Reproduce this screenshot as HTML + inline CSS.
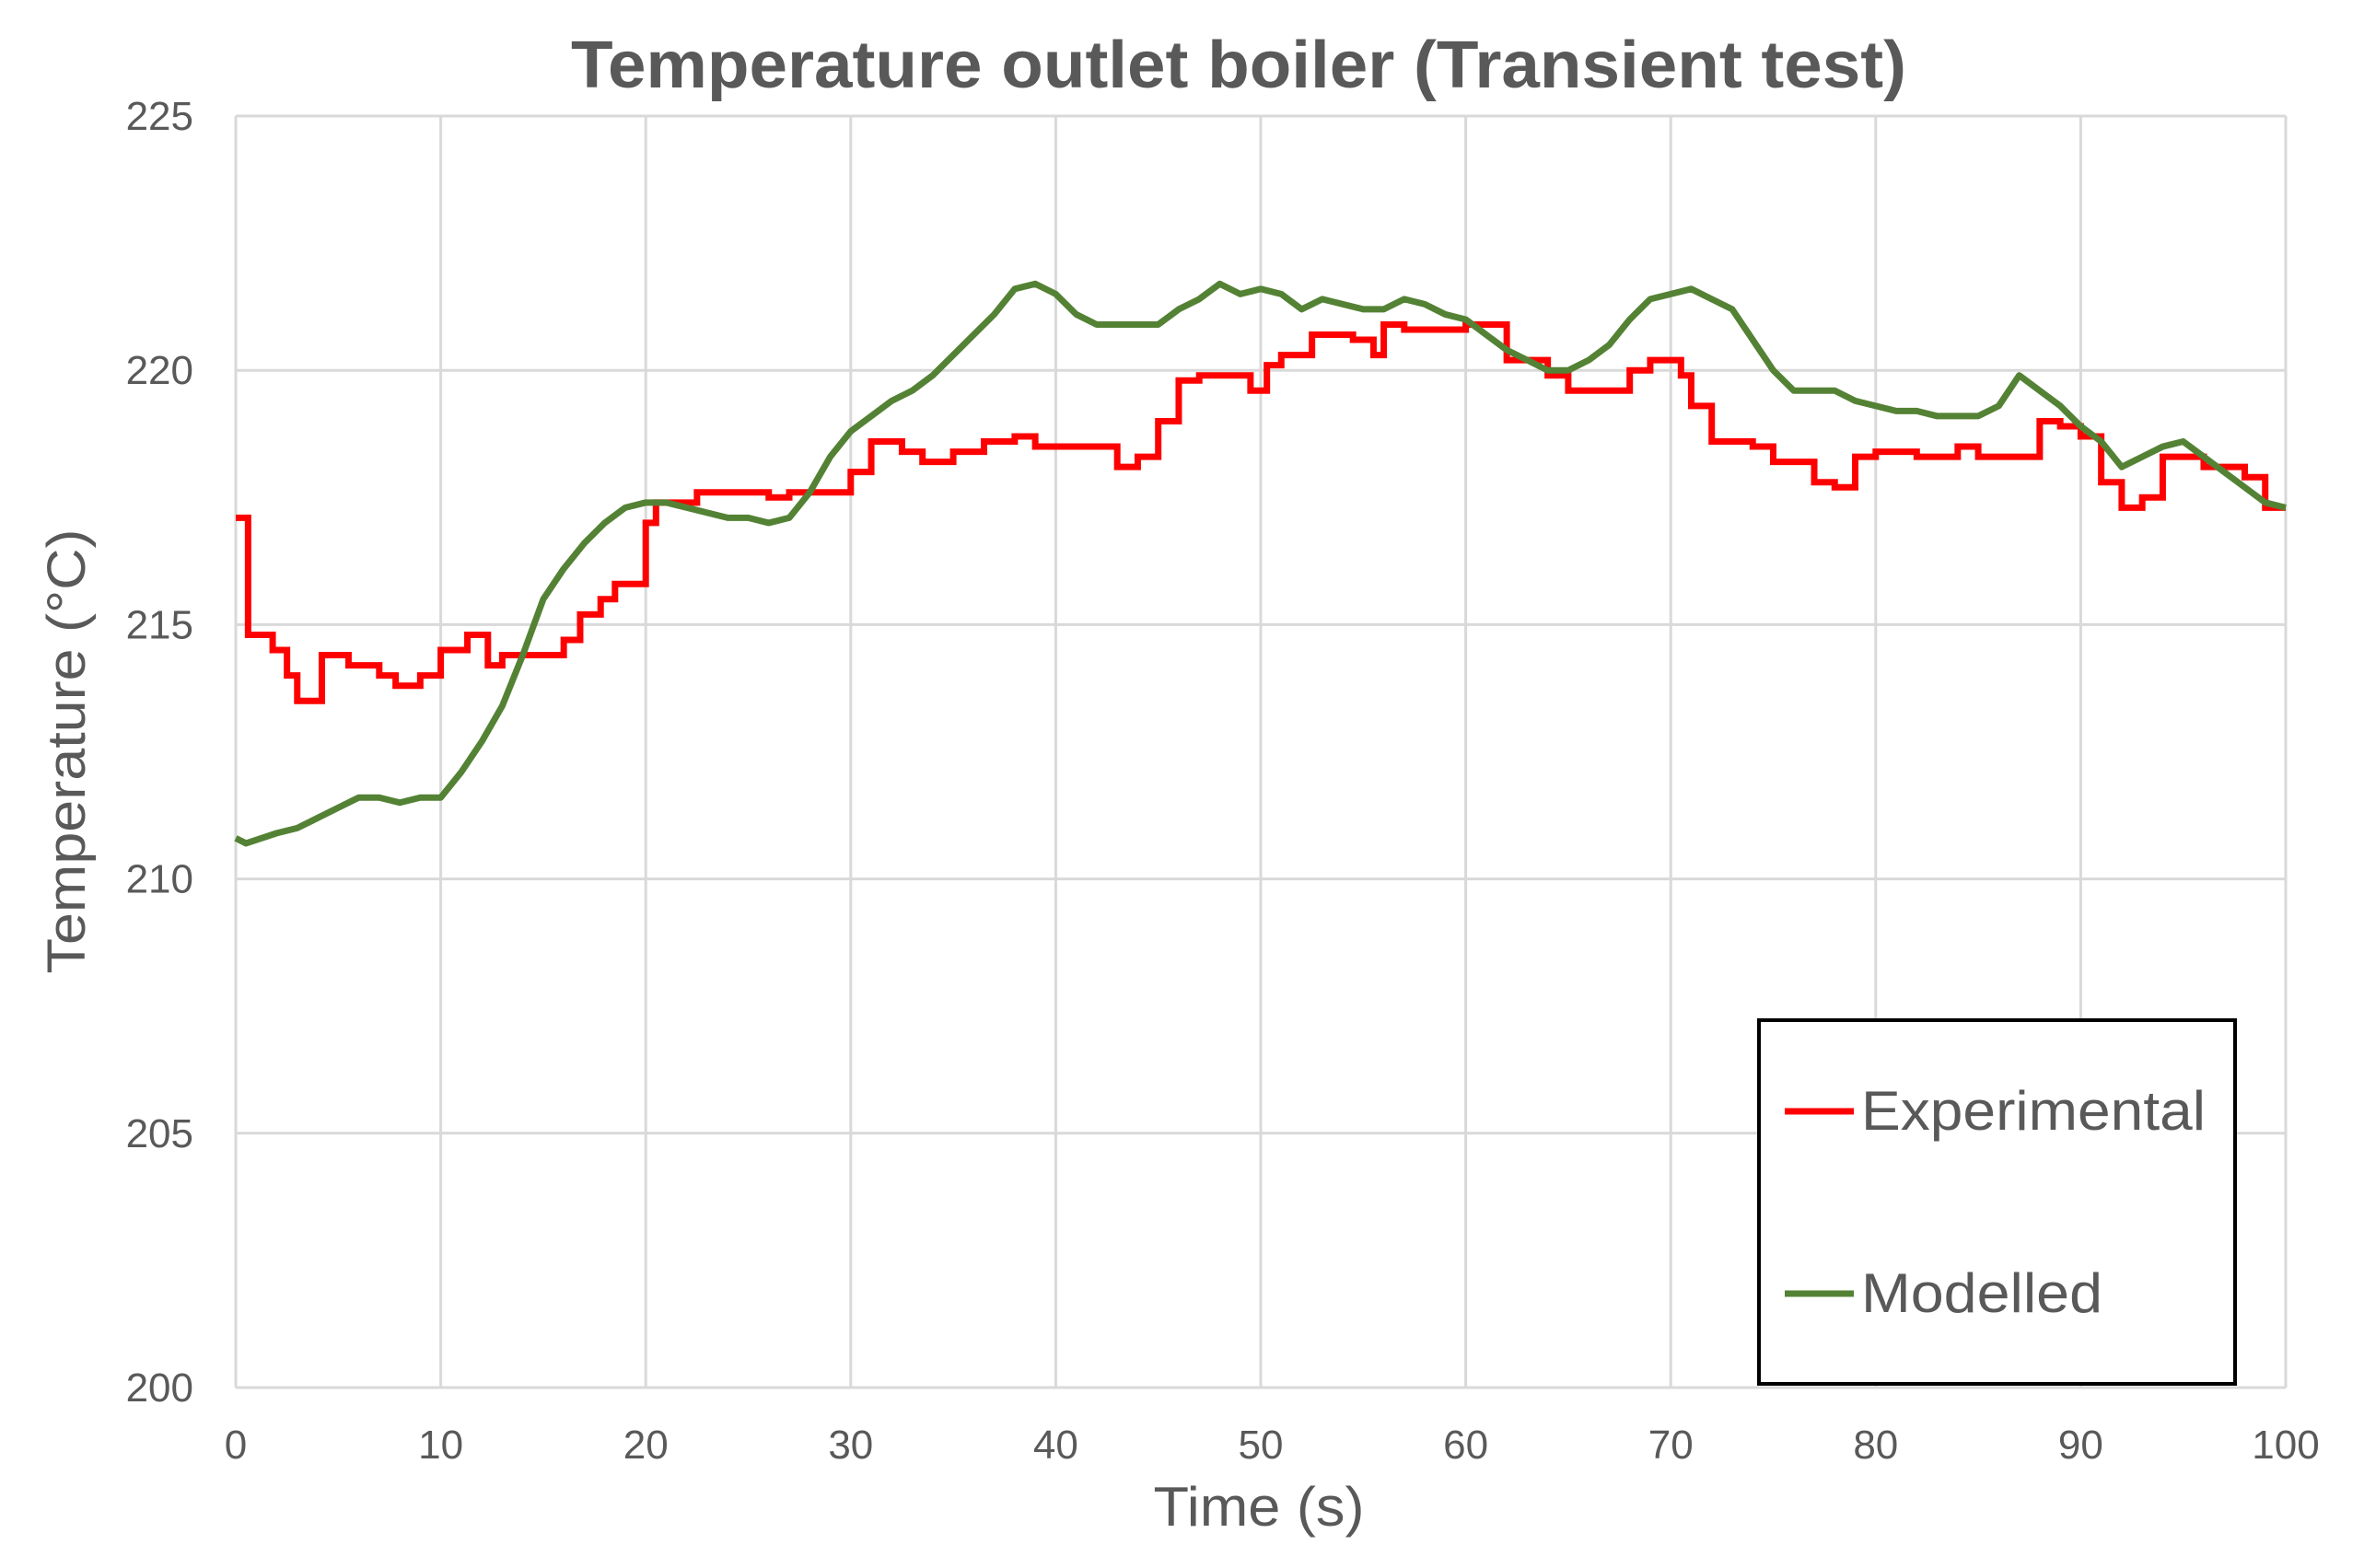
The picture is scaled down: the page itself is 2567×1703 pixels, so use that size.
<!DOCTYPE html>
<html><head><meta charset="utf-8">
<style>
html,body{margin:0;padding:0;background:#fff;}
svg{display:block;font-family:"Liberation Sans",sans-serif;}
</style></head>
<body>
<svg id="chart" width="2567" height="1703" viewBox="0 0 2567 1703" xmlns="http://www.w3.org/2000/svg">
<rect x="0" y="0" width="2567" height="1703" fill="#fff"/>
<text x="1345" y="95" text-anchor="middle" font-size="72" font-weight="bold" fill="#595959" textLength="1450" lengthAdjust="spacingAndGlyphs">Temperature outlet boiler (Transient test)</text>
<g id="grid"></g>
<g id="yticks"></g>
<g id="xticks"></g>
<text transform="translate(92,816) rotate(-90)" text-anchor="middle" font-size="58" fill="#595959" textLength="483" lengthAdjust="spacingAndGlyphs">Temperature (°C)</text>
<text x="1367" y="1657" text-anchor="middle" font-size="60" fill="#595959" textLength="229" lengthAdjust="spacingAndGlyphs">Time (s)</text>
<g id="series"></g>
<g>
<rect x="1910" y="1108" width="517" height="395" fill="#fff" stroke="#000" stroke-width="4"/>
<line x1="1938" y1="1207" x2="2013" y2="1207" stroke="#ff0000" stroke-width="7"/>
<text x="2021" y="1227" font-size="60" fill="#595959" textLength="374" lengthAdjust="spacingAndGlyphs">Experimental</text>
<line x1="1938" y1="1405" x2="2013" y2="1405" stroke="#548235" stroke-width="7"/>
<text x="2021" y="1425" font-size="60" fill="#595959" textLength="262" lengthAdjust="spacingAndGlyphs">Modelled</text>
</g>
</svg>
<script>
const xTicks = [0,10,20,30,40,50,60,70,80,90,100];
const yTicks = [200,205,210,215,220,225];
const expTimes = [0,0.6,1.8,2.5,3,4.2,5.5,7,7.8,9,10,11.3,12.3,13,16,16.8,17.8,18.5,20,20.5,22.5,26,27,30,31,32.5,33.5,35,36.5,38,39,43,44,45,46,47,49.5,50.3,51,52.5,54.5,55.5,56,57,60,62,64,65,68,69,70.5,71,72,74,75,77,78,79,80,82,84,85,88,89,90,91,92,93,94,96,98,99,100];
const expValues = [217.1,214.8,214.5,214.0,213.5,214.4,214.2,214.0,213.8,214.0,214.5,214.8,214.2,214.4,214.7,215.2,215.5,215.8,217.0,217.4,217.6,217.5,217.6,218.0,218.6,218.4,218.2,218.4,218.6,218.7,218.5,218.1,218.3,219.0,219.8,219.9,219.6,220.1,220.3,220.7,220.6,220.3,220.9,220.8,220.9,220.2,219.9,219.6,220.0,220.2,219.9,219.3,218.6,218.5,218.2,217.8,217.7,218.3,218.4,218.3,218.5,218.3,219.0,218.9,218.7,217.8,217.3,217.5,218.3,218.1,217.9,217.3,217.3];
const modTimes = [0,0.5,2,3,4,5,6,7,8,9,10,11,12,13,14,15,16,17,18,19,20,21,22,23,24,25,26,27,28,29,30,31,32,33,34,35,36,37,38,39,40,41,42,43,44,45,46,47,48,49,50,51,52,53,54,55,56,57,58,59,60,61,62,63,64,65,66,67,68,69,70,71,72,73,74,75,76,77,78,79,80,81,82,83,84,85,86,87,88,89,90,91,92,93,94,95,96,97,98,99,100];
const modValues = [210.8,210.7,210.9,211.0,211.2,211.4,211.6,211.6,211.5,211.6,211.6,212.1,212.7,213.4,214.4,215.5,216.1,216.6,217.0,217.3,217.4,217.4,217.3,217.2,217.1,217.1,217.0,217.1,217.6,218.3,218.8,219.1,219.4,219.6,219.9,220.3,220.7,221.1,221.6,221.7,221.5,221.1,220.9,220.9,220.9,220.9,221.2,221.4,221.7,221.5,221.6,221.5,221.2,221.4,221.3,221.2,221.2,221.4,221.3,221.1,221.0,220.7,220.4,220.2,220.0,220.0,220.2,220.5,221.0,221.4,221.5,221.6,221.4,221.2,220.6,220.0,219.6,219.6,219.6,219.4,219.3,219.2,219.2,219.1,219.1,219.1,219.3,219.9,219.6,219.3,218.9,218.6,218.1,218.3,218.5,218.6,218.3,218.0,217.7,217.4,217.3];

const X0=256, X1=2482, Y0=1507, Y1=126;
const xs = t => X0 + (t-0)/(100-0)*(X1-X0);
const ys = v => Y0 - (v-200)/(225-200)*(Y0-Y1);
const NS='http://www.w3.org/2000/svg';
const grid=document.getElementById('grid'), yt=document.getElementById('yticks'), xt=document.getElementById('xticks'), ser=document.getElementById('series');
function mk(tag,attrs,parent){const e=document.createElementNS(NS,tag);for(const k in attrs)e.setAttribute(k,attrs[k]);parent.appendChild(e);return e;}
yTicks.forEach(v=>{
  const l=mk('line',{x1:X0,x2:X1,y1:ys(v),y2:ys(v),stroke:'#d9d9d9','stroke-width':3},grid);
  
  
  const t=mk('text',{x:210,y:ys(v)+15,'text-anchor':'end','font-size':44,fill:'#595959'},yt);
  
  
  t.textContent=v;
});
xTicks.forEach(v=>{
  const l=mk('line',{x1:xs(v),x2:xs(v),y1:Y1,y2:Y0,stroke:'#d9d9d9','stroke-width':3},grid);
  
  
  const t=mk('text',{x:xs(v),y:1584,'text-anchor':'middle','font-size':44,fill:'#595959'},xt);
  
  
  t.textContent=v;
});
let d='';
expTimes.forEach((t,i)=>{
  if(i===0) d+='M'+xs(t)+','+ys(expValues[i]);
  else d+=' L'+xs(t)+','+ys(expValues[i-1])+' L'+xs(t)+','+ys(expValues[i]);
});
const pe=mk('path',{d:d,fill:'none',stroke:'#ff0000','stroke-width':7,'stroke-linejoin':'miter'},ser);


let d2='';
modTimes.forEach((t,i)=>{d2+=(i?' L':'M')+xs(t)+','+ys(modValues[i]);});
const pm=mk('path',{d:d2,fill:'none',stroke:'#548235','stroke-width':7,'stroke-linejoin':'round'},ser);


</script>
</body></html>
